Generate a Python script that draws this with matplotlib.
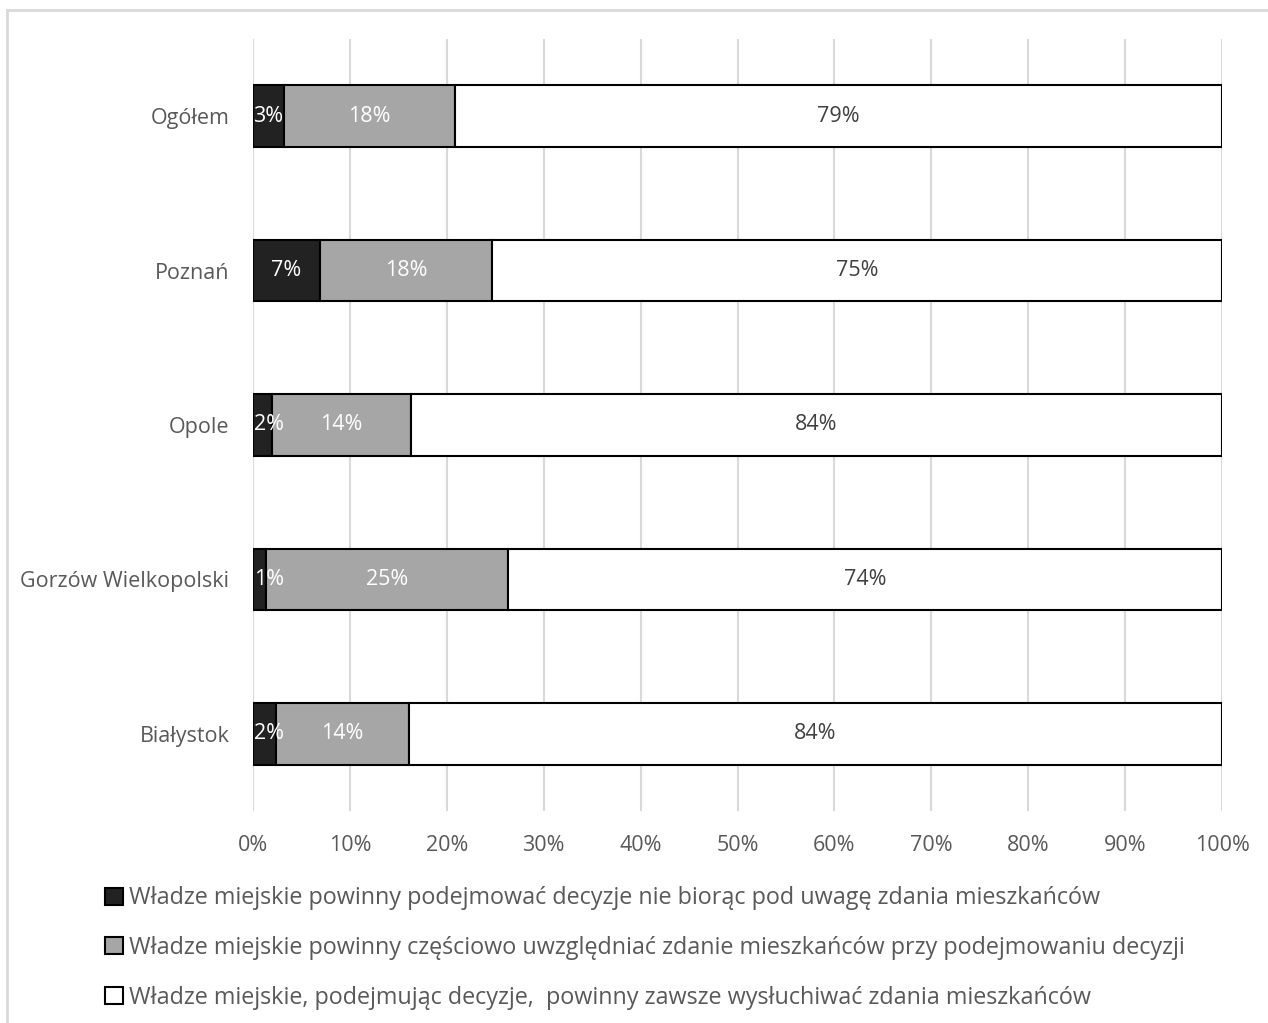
import matplotlib.pyplot as plt
from matplotlib.patches import Rectangle

plt.rcParams['font.family'] = ['Open Sans', 'DejaVu Sans']

cities = ["Ogółem", "Poznań", "Opole", "Gorzów Wielkopolski", "Białystok"]
ignore = [3.2, 6.9, 2.0, 1.3, 2.4]
partly = [17.6, 17.8, 14.3, 25.0, 13.7]
always = [79.2, 75.3, 83.7, 73.7, 83.9]

series_names = [
    "Władze miejskie powinny podejmować decyzje nie biorąc pod uwagę zdania mieszkańców",
    "Władze miejskie powinny częściowo uwzględniać zdanie mieszkańców przy podejmowaniu decyzji",
    "Władze miejskie, podejmując decyzje,  powinny zawsze wysłuchiwać zdania mieszkańców",
]
colors = ["#222222", "#a6a6a6", "#ffffff"]
label_colors = ["white", "white", "#404040"]
ticks = [0, 10, 20, 30, 40, 50, 60, 70, 80, 90, 100]

txt = "#595959"
fs = 15.5
fs_leg = 16.8

fig = plt.figure(figsize=(12.68, 10.23), dpi=100)
fig.patches.append(Rectangle((7 / 1268, -0.1), 1.2, 1 - 10 / 1023 + 0.1,
                             transform=fig.transFigure, fill=False,
                             edgecolor="#d9d9d9", linewidth=2))
ax = fig.add_axes([253 / 1268, 1 - 811 / 1023, (1222 - 253) / 1268, (811 - 39) / 1023])

y = list(range(len(cities)))
left = [0] * len(cities)
handles = []
for vals, c, lc, name in zip([ignore, partly, always], colors, label_colors, series_names):
    bars = ax.barh(y, vals, left=left, height=0.4, color=c, edgecolor="black",
                   linewidth=1.5, label=name, zorder=3)
    handles.append(bars)
    for yi, l, v in zip(y, left, vals):
        if l == 0 and v < 3:
            # small labels are kept inside the plot, like excel does
            ax.text(0.15, yi, f"{round(v)}%", ha="left", va="center",
                    color=lc, fontsize=fs, zorder=4)
        else:
            ax.text(l + v / 2, yi, f"{round(v)}%", ha="center", va="center",
                    color=lc, fontsize=fs, zorder=4)
    left = [a + b for a, b in zip(left, vals)]

ax.set_ylim(len(cities) - 0.5, -0.5)
ax.set_xlim(0, 100)
ax.set_yticks(y)
ax.set_yticklabels(cities)
ax.set_xticks(ticks)
ax.set_xticklabels([f"{t}%" for t in ticks])
ax.tick_params(axis="both", length=0, labelsize=fs, colors=txt)
ax.tick_params(axis="x", pad=17)
ax.tick_params(axis="y", pad=17)
ax.xaxis.grid(True, color="#d9d9d9", linewidth=1.5, zorder=0)
for s in ax.spines.values():
    s.set_visible(False)

leg = fig.legend(handles=handles, loc="upper left", bbox_to_anchor=(96 / 1268, 1 - 877 / 1023),
                 frameon=False, fontsize=fs_leg, labelcolor=txt, handlelength=0.75,
                 handleheight=0.75, handletextpad=0.25, labelspacing=1.1, borderaxespad=0)

fig.savefig("out.png", dpi=100)
